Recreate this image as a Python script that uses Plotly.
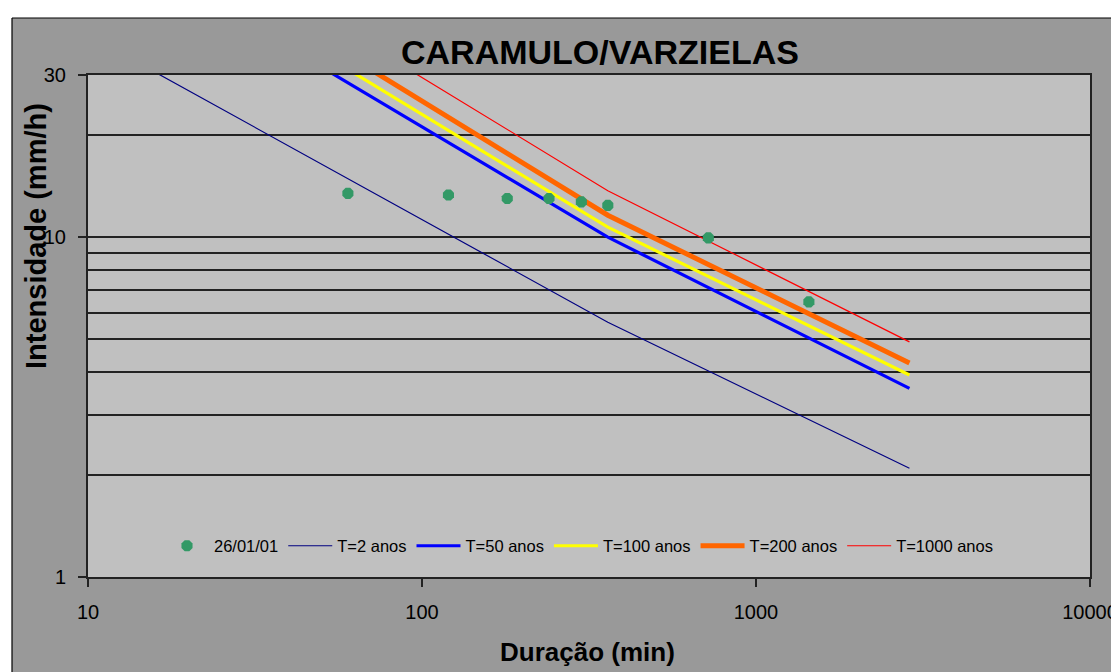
import math
import plotly.graph_objects as go

# ---------------- data ----------------
obs_label = "26/01/01"
obs_duration = [60, 120, 180, 240, 300, 360, 720, 1440]          # min
obs_intensity = [13.45, 13.3, 13.0, 13.0, 12.7, 12.4, 9.95, 6.45]  # mm/h

idf_duration = [10, 360, 2880]  # min
idf_names = ["T=2 anos", "T=50 anos", "T=100 anos", "T=200 anos", "T=1000 anos"]
idf_t2 = [39.3, 5.62, 2.09]
idf_t50 = [81.0, 10.0, 3.59]
idf_t100 = [90.8, 10.7, 3.93]
idf_t200 = [101.0, 11.6, 4.26]
idf_t1000 = [117.0, 13.7, 4.92]

x_ticks = [10, 100, 1000, 10000]
x_ticktext = ["10", "100", "1000", "10000"]
y_ticks = [1, 10, 30]
y_ticktext = ["1", "10", "30"]
y_minor_grid = [2, 3, 4, 5, 6, 7, 8, 9, 20]

title_text = "CARAMULO/VARZIELAS"
x_title = "Duração (min)"
y_title = "Intensidade (mm/h)"

# ---------------- layout geometry ----------------
# the page body has an 8px margin; the figure fills the rest of the window
OFF = 8
W, H = 1119 - OFF, 672 - OFF
L, R, T, B = 88 - OFF, 1090 - OFF, 75 - OFF, 577 - OFF
pw, ph = R - L, B - T


def px_x(p):
    return (p - OFF - L) / pw


def px_y(p):
    return (B - (p - OFF)) / ph


FONT = "Liberation Sans, Arial, sans-serif"

series_styles = [
    dict(color="#000080", width=1.2),
    dict(color="#0000FF", width=3.2),
    dict(color="#FFFF00", width=3.2),
    dict(color="#FF6600", width=5),
    dict(color="#FF0000", width=1.2),
]
series_values = [idf_t2, idf_t50, idf_t100, idf_t200, idf_t1000]

fig = go.Figure()
for i, (name, vals, st) in enumerate(zip(idf_names, series_values, series_styles)):
    fig.add_trace(go.Scatter(
        x=idf_duration, y=vals, mode="lines", name=name,
        line=dict(color=st["color"], width=st["width"]),
        legendrank=i + 2, hoverinfo="x+y+name",
    ))

fig.add_trace(go.Scatter(
    x=obs_duration, y=obs_intensity, mode="markers", name=obs_label,
    marker=dict(symbol="octagon", size=12, color="#339966",
                line=dict(width=0)),
    legendrank=1,
))

fig.update_layout(
    width=W, height=H, autosize=False,
    margin=dict(l=L, r=W - R, t=T, b=H - B, pad=0, autoexpand=False),
    paper_bgcolor="#999999",
    plot_bgcolor="#C0C0C0",
    font=dict(family=FONT, color="black"),
    showlegend=True,
    legend=dict(
        orientation="h", x=px_x(160), xanchor="left",
        y=px_y(546), yanchor="middle",
        bgcolor="rgba(0,0,0,0)", borderwidth=0,
        font=dict(family=FONT, size=16.5, color="black"),
        itemwidth=44, tracegroupgap=0,
    ),
    shapes=[
        # white page strip above / left of the chart area
        dict(type="rect", xref="paper", yref="paper",
             x0=px_x(0), x1=px_x(1200), y0=px_y(18), y1=px_y(-20),
             fillcolor="white", line=dict(width=0), layer="below"),
        dict(type="rect", xref="paper", yref="paper",
             x0=px_x(-20), x1=px_x(12), y0=px_y(700), y1=px_y(-20),
             fillcolor="white", line=dict(width=0), layer="below"),
        dict(type="line", xref="paper", yref="paper",
             x0=px_x(12), x1=px_x(1200), y0=px_y(18), y1=px_y(18),
             line=dict(color="black", width=1.2), layer="below"),
        dict(type="line", xref="paper", yref="paper",
             x0=px_x(12), x1=px_x(12), y0=px_y(18), y1=px_y(700),
             line=dict(color="black", width=1.2), layer="below"),
        dict(type="rect", xref="paper", yref="paper",
             x0=0, x1=1, y0=0, y1=1,
             fillcolor="#C0C0C0", line=dict(width=0), layer="below"),
    ],
    annotations=[
        dict(text=title_text, xref="paper", yref="paper",
             x=px_x(600), y=px_y(52), xanchor="center", yanchor="middle",
             showarrow=False, font=dict(family=FONT, size=34, color="black",
                                        weight="bold")),
        dict(text=x_title, xref="paper", yref="paper",
             x=px_x(587), y=px_y(652), xanchor="center", yanchor="middle",
             showarrow=False, font=dict(family=FONT, size=26, color="black",
                                        weight="bold")),
        dict(text=y_title, xref="paper", yref="paper",
             x=px_x(36), y=px_y(236), xanchor="center", yanchor="middle",
             textangle=-90, showarrow=False,
             font=dict(family=FONT, size=29, color="black", weight="bold")),
    ],
)

fig.update_xaxes(
    type="log", range=[math.log10(10), math.log10(10000)],
    tickmode="array", tickvals=x_ticks, ticktext=x_ticktext,
    ticks="outside", ticklen=8, tickwidth=1.5, tickcolor="#222222",
    tickfont=dict(family=FONT, size=20, color="black"),
    ticklabeloverflow="allow", automargin=False,
    showgrid=False, zeroline=False,
    showline=True, mirror=True, linecolor="#222222", linewidth=2,
    ticklabelstandoff=8,
)
fig.update_yaxes(
    type="log", range=[0, math.log10(30)],
    tickmode="array", tickvals=y_ticks, ticktext=y_ticktext,
    ticks="outside", ticklen=8, tickwidth=1.5, tickcolor="#222222",
    tickfont=dict(family=FONT, size=20, color="black"),
    automargin=False,
    showgrid=True, gridcolor="#222222", gridwidth=2,
    minor=dict(tickmode="array", tickvals=y_minor_grid, showgrid=True,
               gridcolor="#222222", gridwidth=2, ticks=""),
    zeroline=False,
    showline=True, mirror=True, linecolor="#222222", linewidth=2,
    ticklabelstandoff=8,
)

fig.write_html("out.html")
